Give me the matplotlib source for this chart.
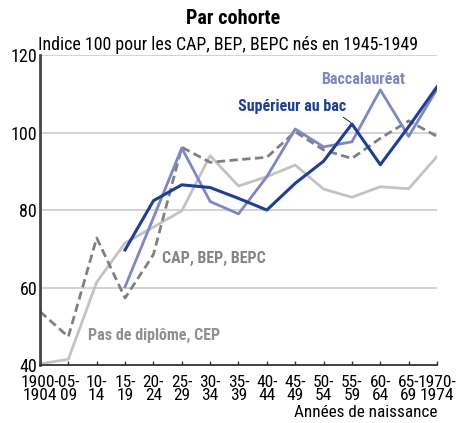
import numpy as np
import matplotlib.pyplot as plt

plt.rcParams['font.family'] = ['Roboto Condensed', 'DejaVu Sans']

# data
cohortes = ['1900-\n1904', '05-\n09', '10-\n14', '15-\n19', '20-\n24', '25-\n29', '30-\n34',
            '35-\n39', '40-\n44', '45-\n49', '50-\n54', '55-\n59', '60-\n64', '65-\n69', '1970-\n1974']
pas_diplome = [40.3, 41.5, 61.4, 71.5, 75.6, 79.8, 94.0, 86.2, 88.6, 91.6, 85.4, 83.3, 86.0, 85.5, 93.8]
cap_bep = [53.8, 47.3, 72.8, 57.3, 68.5, 96.2, 92.3, 93.0, 93.6, 100.2, 95.5, 93.3, 98.5, 103.0, 99.0]
bac_idx = list(range(3, 15))
baccalaureat = [60.2, 78.0, 96.0, 82.2, 79.0, 88.6, 100.9, 96.3, 97.6, 111.0, 99.0, 111.2]
superieur = [69.7, 82.4, 86.5, 85.8, 83.0, 80.0, 86.9, 92.6, 102.2, 91.7, 101.5, 111.8]

x = np.arange(len(cohortes))

fig = plt.figure(figsize=(4.66, 4.23), dpi=100)
ax = fig.add_axes([0.0858, 0.137, 0.852, 0.733])

# grid lines
for v in [60, 80, 100, 120]:
    ax.axhline(v, color='#c8c8c8', lw=1.1, zorder=0)

ax.plot(x, pas_diplome, color='#c3c3c3', lw=2.0)
ax.plot(x, cap_bep, color='#808080', lw=2.0, dashes=(3, 1.6))
ax.plot(bac_idx, baccalaureat, color='#7f86c6', lw=2.0)
ax.plot(bac_idx, superieur, color='#1d3f9a', lw=2.2)

# series labels
ax.text(9.9, 113.8, 'Baccalauréat', color='#7f86c6', fontsize=11.5, fontweight='bold', va='center')
ax.annotate('Supérieur au bac', xy=(11.0, 102.4), xytext=(7.0, 106.6),
            color='#1d3f9a', fontsize=11.5, fontweight='bold', va='center',
            arrowprops=dict(arrowstyle='-', color='black', lw=0.6, shrinkA=0, shrinkB=1,
                            relpos=(0.93, 0.0)))
ax.text(4.3, 67.6, 'CAP, BEP, BEPC', color='#858585', fontsize=11.5, fontweight='bold', va='center')
ax.text(1.69, 47.5, 'Pas de diplôme, CEP', color='#909090', fontsize=11.5, fontweight='bold', va='center')

ax.set_xlim(0, 14)
ax.set_ylim(40, 120)
ax.set_yticks([40, 60, 80, 100, 120])
ax.set_xticks(x)
ax.set_xticklabels(cohortes, fontsize=12.5, linespacing=0.85)
ax.tick_params(axis='y', length=0, labelsize=13, pad=2)
ax.tick_params(axis='x', direction='in', length=3, width=1, color='#333333', pad=7)

for s in ['top', 'right']:
    ax.spines[s].set_visible(False)
ax.spines['left'].set_color('#444444')
ax.spines['left'].set_linewidth(2)
ax.spines['bottom'].set_color('#333333')
ax.spines['bottom'].set_linewidth(1.3)

fig.text(0.5, 0.957, 'Par cohorte', ha='center', va='center', fontsize=14.5, fontweight='bold')
fig.text(0.082, 0.893, 'Indice 100 pour les CAP, BEP, BEPC nés en 1945-1949', ha='left', va='center',
         fontsize=12.9)
fig.text(0.938, 0.026, 'Années de naissance', ha='right', va='center', fontsize=12.3)

fig.savefig('out.png', dpi=100)
